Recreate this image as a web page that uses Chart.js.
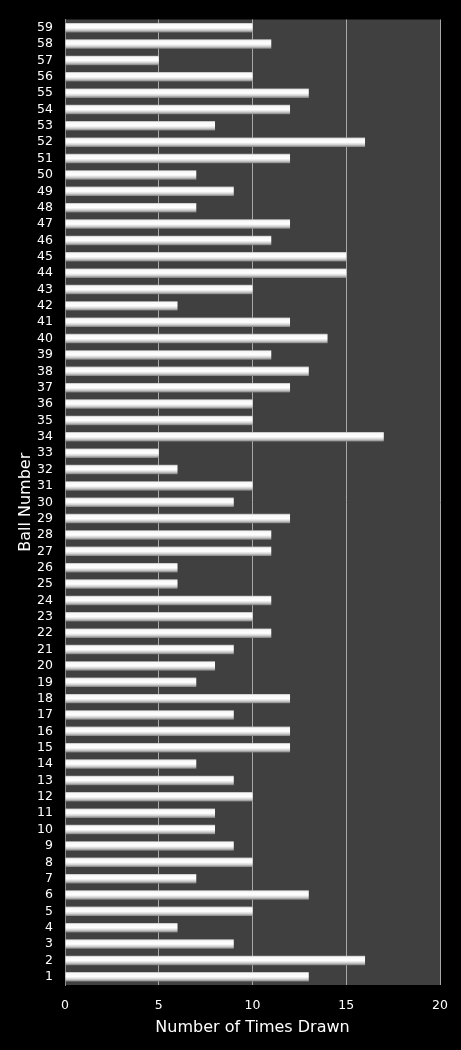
<!DOCTYPE html>
<html>
<head>
<meta charset="utf-8">
<script src="https://cdn.jsdelivr.net/npm/chart.js@4/dist/chart.umd.min.js"></script>
<style>
  html, body { margin: 0; padding: 0; background: #000; }
  #wrap { width: 461px; height: 1050px; position: relative; }
</style>
</head>
<body>
<div id="wrap"><canvas id="ballChart"></canvas></div>
<script>
// ball numbers 1..59, drawn count per ball
const balls = [
    '1', '2', '3', '4', '5', '6', '7', '8', '9', '10',
    '11', '12', '13', '14', '15', '16', '17', '18', '19', '20',
    '21', '22', '23', '24', '25', '26', '27', '28', '29', '30',
    '31', '32', '33', '34', '35', '36', '37', '38', '39', '40',
    '41', '42', '43', '44', '45', '46', '47', '48', '49', '50',
    '51', '52', '53', '54', '55', '56', '57', '58', '59',
];
const timesDrawn = [
    13, 16, 9, 6, 10, 13, 7, 10, 9, 8,
    8, 10, 9, 7, 12, 12, 9, 12, 7, 8,
    9, 11, 10, 11, 6, 6, 11, 11, 12, 9,
    10, 6, 5, 17, 10, 10, 12, 13, 11, 14,
    12, 6, 10, 15, 15, 11, 12, 7, 9, 7,
    12, 16, 8, 12, 13, 10, 5, 11, 10,
];
const xTicks = [0, 5, 10, 15, 20];

const FONT = 'DejaVu Sans, Verdana, sans-serif';

// fill the plot area dark grey
const plotBg = {
    id: 'plotBg',
    beforeDraw(chart) {
        const { ctx, chartArea: a } = chart;
        ctx.save();
        ctx.fillStyle = '#404040';
        ctx.fillRect(a.left, a.top, a.right - a.left, a.bottom - a.top);
        ctx.restore();
    },
};

// cylinder look: vertical gradient per bar, placed from the category scale
function barFill(c) {
    const chart = c.chart;
    const ys = chart.scales && chart.scales.y;
    if (!ys || !chart.chartArea) return '#e0e0e0';
    const yc = ys.getPixelForValue(c.dataIndex);
    const h = 4.8;
    const g = chart.ctx.createLinearGradient(0, yc - h, 0, yc + h);
    g.addColorStop(0, '#b4b4b4');
    g.addColorStop(0.15, '#f8f8f8');
    g.addColorStop(0.5, '#ffffff');
    g.addColorStop(0.75, '#d0d0d0');
    g.addColorStop(1, '#7c7c7c');
    return g;
}

new Chart(document.getElementById('ballChart'), {
    type: 'bar',
    data: {
        labels: balls,
        datasets: [
            {
                data: timesDrawn,
                backgroundColor: barFill,
                borderWidth: 0,
                barPercentage: 0.58,
                categoryPercentage: 1,
            },
        ],
    },
    options: {
        indexAxis: 'y',
        responsive: true,
        maintainAspectRatio: false,
        animation: false,
        devicePixelRatio: 1,
        layout: { padding: { top: 16, right: 20, left: 0, bottom: 0 } },
        plugins: { legend: { display: false }, tooltip: { enabled: false } },
        scales: {
            x: {
                min: 0,
                max: 20,
                afterBuildTicks: (s) => { s.ticks = xTicks.map((v) => ({ value: v })); },
                afterFit: (s) => { s.height = 65; },
                grid: { color: '#a8a8a8', lineWidth: 1, drawTicks: false },
                border: { display: false },
                ticks: { color: '#ffffff', font: { family: FONT, size: 12.5 }, padding: 13 },
                title: {
                    display: true,
                    text: 'Number of Times Drawn',
                    color: '#ffffff',
                    font: { family: FONT, size: 16 },
                    padding: { top: 0, bottom: 13 },
                },
            },
            y: {
                reverse: true,
                afterFit: (s) => { s.width = 65; },
                grid: { display: false, drawTicks: false },
                border: { display: true, color: '#8c8c8c', width: 1 },
                ticks: { color: '#ffffff', font: { family: FONT, size: 12.5 }, padding: 12, autoSkip: false },
                title: {
                    display: true,
                    text: 'Ball Number',
                    color: '#ffffff',
                    font: { family: FONT, size: 16 },
                    padding: { top: 16, bottom: 0 },
                },
            },
        },
    },
    plugins: [plotBg],
});
</script>
</body>
</html>
